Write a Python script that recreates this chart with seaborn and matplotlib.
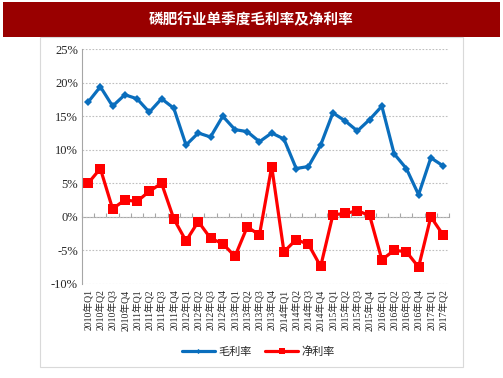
import pandas as pd
import matplotlib.pyplot as plt
import seaborn as sns
from matplotlib.patches import Rectangle
from matplotlib.ticker import FuncFormatter, FixedLocator

years = [2010, 2011, 2012, 2013, 2014, 2015, 2016, 2017]
quarters = [f'{y}年Q{q}' for y in years for q in range(1, 5)][:30]

gross = [17.1, 19.4, 16.5, 18.2, 17.6, 15.6, 17.6, 16.2, 10.7, 12.5,
         11.9, 15.0, 13.0, 12.7, 11.2, 12.5, 11.6, 7.2, 7.5, 10.7,
         15.5, 14.3, 12.8, 14.5, 16.5, 9.4, 7.2, 3.3, 8.8, 7.6]
net = [5.0, 7.2, 1.2, 2.5, 2.3, 3.8, 5.0, -0.3, -3.6, -0.7,
       -3.2, -4.0, -5.9, -1.5, -2.7, 7.5, -5.2, -3.4, -4.1, -7.4,
       0.3, 0.5, 0.9, 0.2, -6.4, -5.0, -5.2, -7.5, 0.0, -2.7]

df = pd.DataFrame({'quarter': quarters, '毛利率': gross, '净利率': net})

sns.set_style('white')
plt.rcParams['font.family'] = ['Noto Sans CJK SC', 'DejaVu Sans']
serif = ['Liberation Serif', 'Noto Sans CJK SC']

fig = plt.figure(figsize=(5.03, 3.78), dpi=100)
ax = fig.add_axes([0.163, 0.249, 0.730, 0.621])

# title banner
fig.patches.append(Rectangle((0.006, 0.902), 0.988, 0.093, transform=fig.transFigure,
                             facecolor='#990000', edgecolor='none', zorder=0))
fig.text(0.5, 0.948, '磷肥行业单季度毛利率及净利率', color='white', fontsize=10.5,
         fontweight='bold', ha='center', va='center')
# chart frame
fig.patches.append(Rectangle((0.080, 0.030), 0.840, 0.872, transform=fig.transFigure,
                             facecolor='none', edgecolor='#d9d9d9', lw=0.8, zorder=0))

x = list(range(len(quarters)))
sns.lineplot(x=x, y=df['毛利率'], ax=ax, color='#0A6EBD', lw=2.3, marker='D',
             markersize=4, markeredgewidth=0, label='毛利率')
sns.lineplot(x=x, y=df['净利率'], ax=ax, color='#FF0000', lw=2.3, marker='s',
             markersize=7, markeredgewidth=0, label='净利率')

ax.set_ylim(-10, 25)
ax.set_xlim(-0.5, len(quarters) - 0.5)
ax.set_yticks(range(-10, 30, 5))
ax.yaxis.set_major_formatter(FuncFormatter(lambda v, p: f'{v:.0f}%'))
for lab in ax.get_yticklabels():
    lab.set_family(serif)
    lab.set_fontsize(9)
ax.set_xticks(x)
ax.set_xticklabels(quarters, rotation=90, fontsize=7, family=serif)
ax.tick_params(axis='x', length=0, pad=4)
ax.tick_params(axis='y', length=0, pad=3)
ax.grid(axis='y', color='#bfbfbf', ls=(0, (1.5, 1.5)), lw=0.8)
ax.set_axisbelow(True)
for s in ['top', 'right', 'bottom']:
    ax.spines[s].set_visible(False)
ax.spines['left'].set_color('#a6a6a6')
ax.set_xlabel('')
ax.set_ylabel('')

# zero axis with category tick marks
zero = ax.secondary_xaxis(10 / 35)
zero.spines['bottom'].set_color('#a6a6a6')
zero.xaxis.set_major_locator(FixedLocator([i - 0.5 for i in range(len(quarters) + 1)]))
zero.tick_params(axis='x', length=3, direction='in', color='#a6a6a6', labelbottom=False)

ax.legend(loc='center', bbox_to_anchor=(0.48, -0.29), ncol=2, frameon=False,
          fontsize=8, handlelength=3.0, columnspacing=1.2, markerscale=0.65,
          handletextpad=0.3)

fig.savefig('out.png', dpi=100)
